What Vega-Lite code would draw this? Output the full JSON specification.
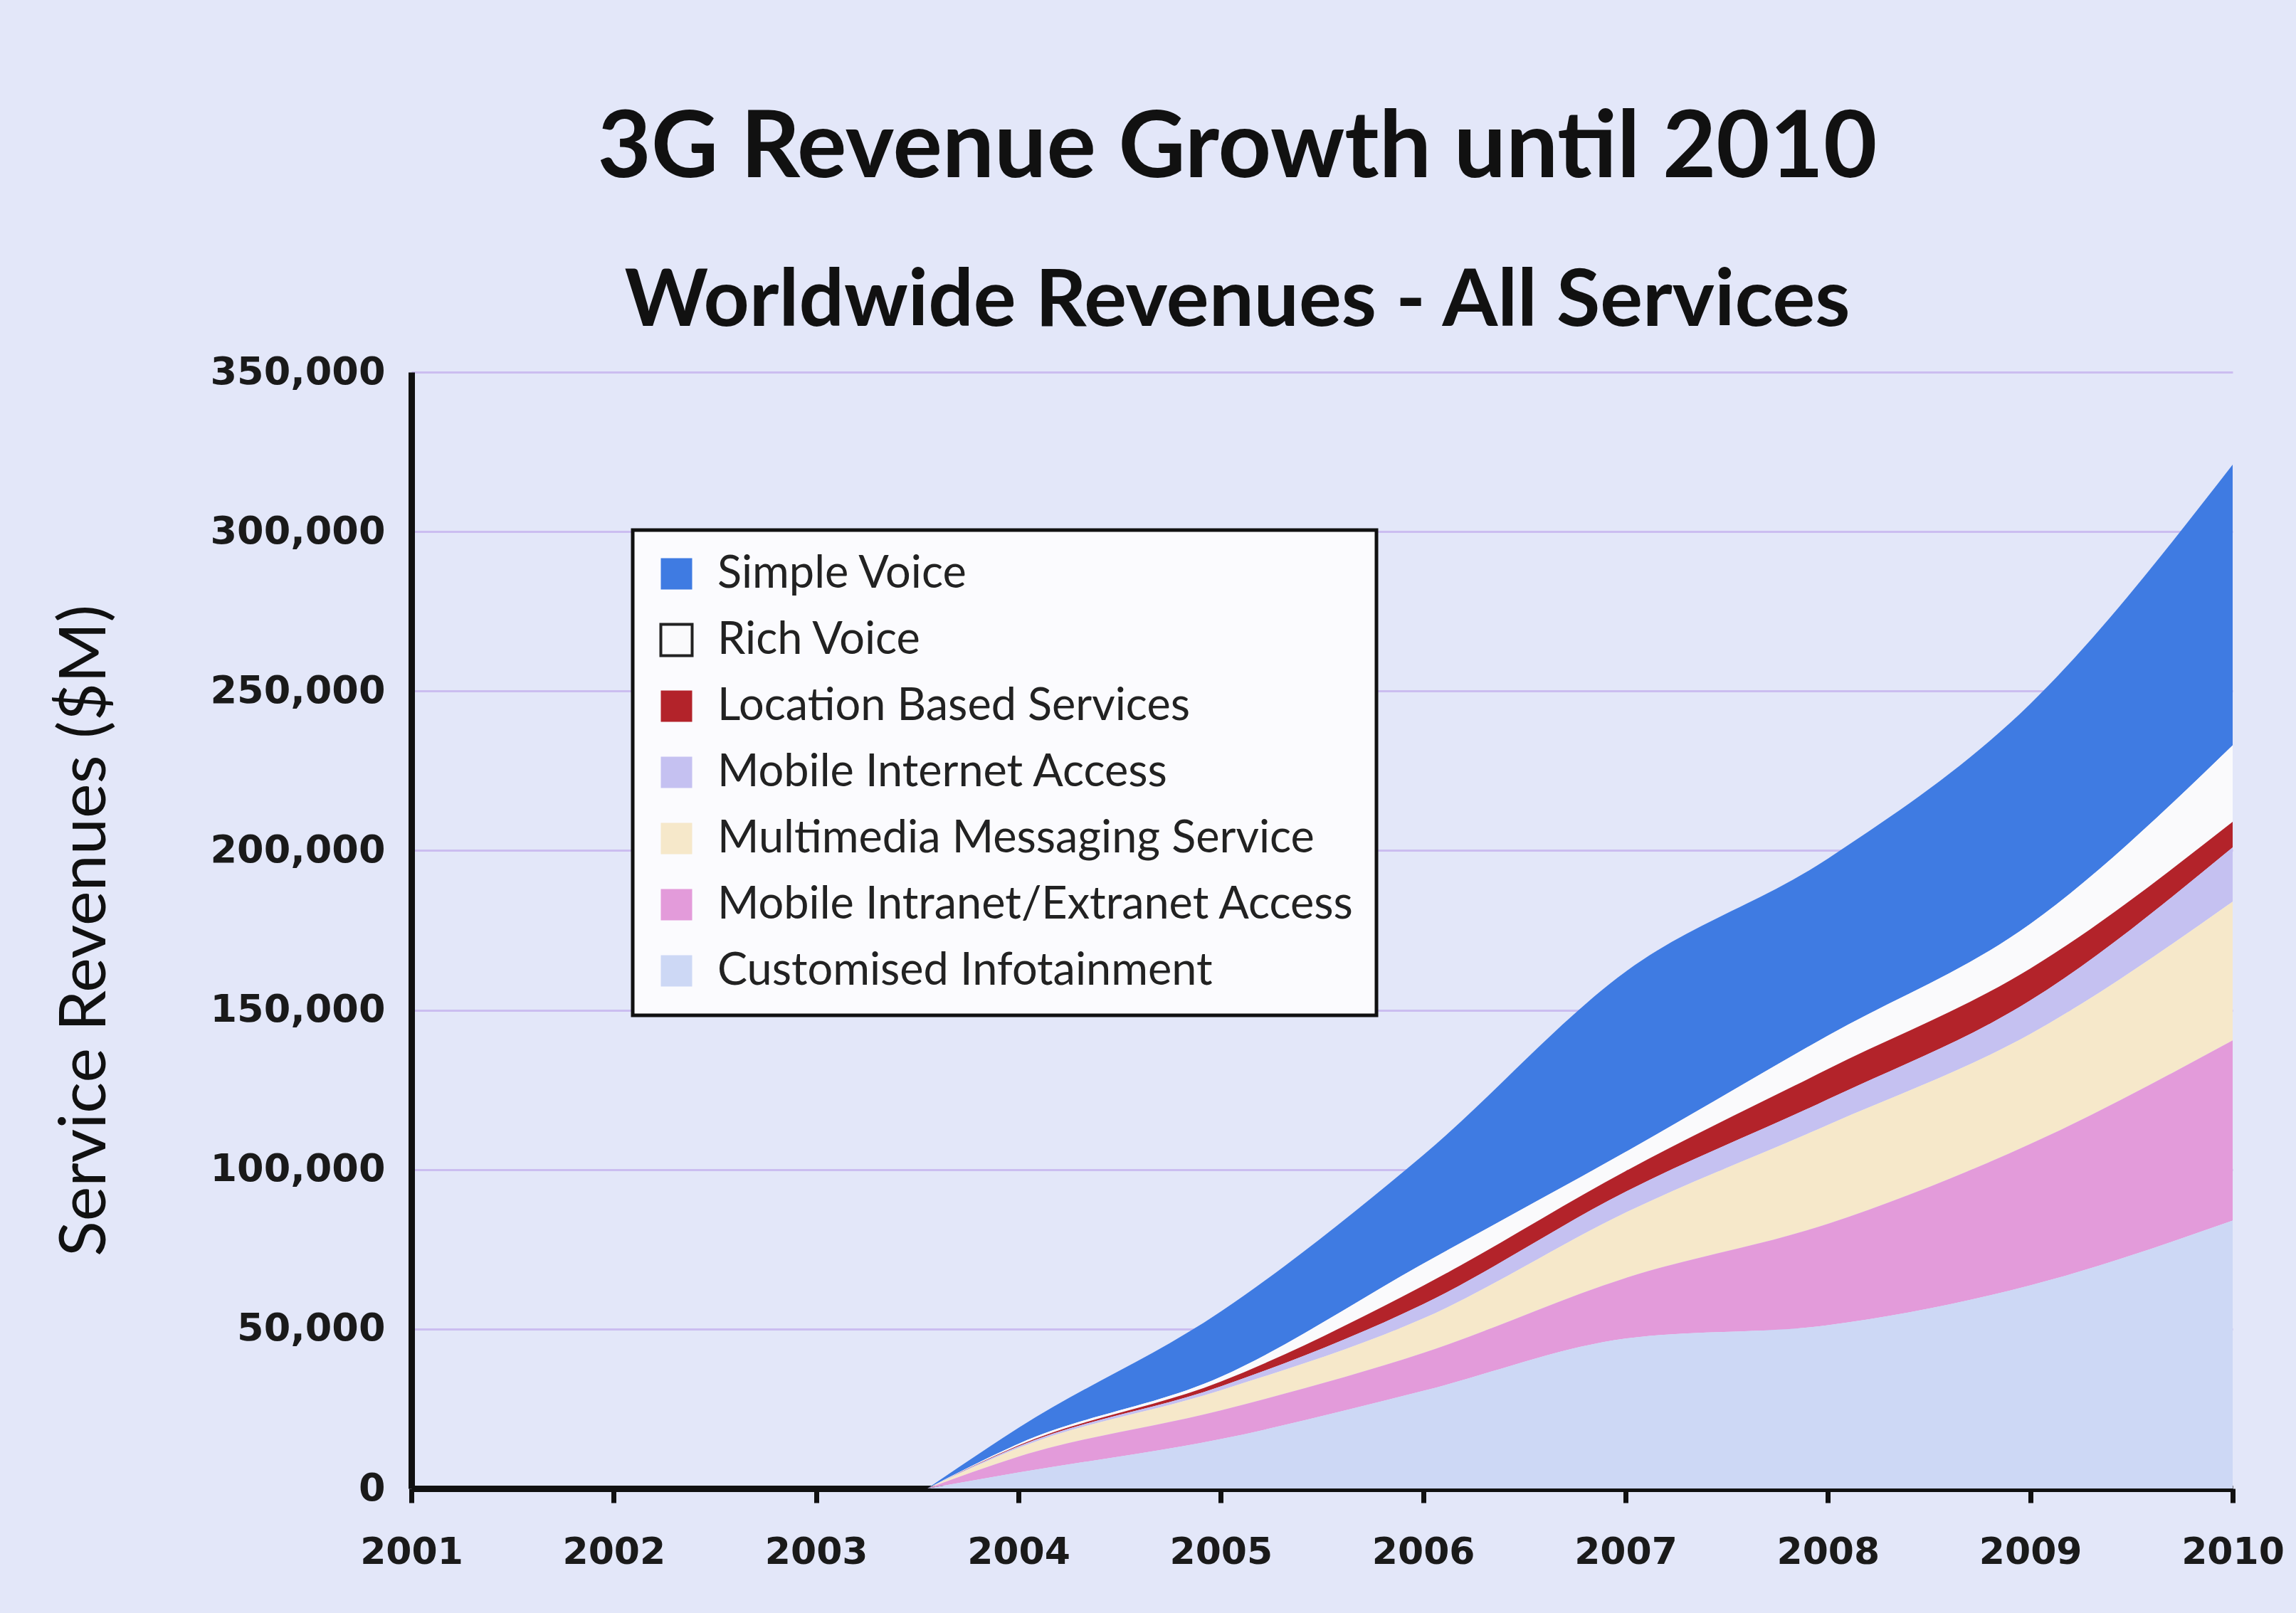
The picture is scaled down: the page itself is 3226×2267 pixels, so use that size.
{
  "$schema": "https://vega.github.io/schema/vega-lite/v6.json",
  "width": 2559,
  "height": 1569,
  "autosize": {"type": "none"},
  "padding": {"left": 578, "top": 523, "right": 89, "bottom": 175},
  "background": "#e3e7f9",
  "title": {
    "text": "3G Revenue Growth until 2010",
    "subtitle": "Worldwide Revenues - All Services",
    "anchor": "middle",
    "frame": "group",
    "dx": -119,
    "font": "Lato",
    "fontSize": 130,
    "fontWeight": "bold",
    "color": "#111111",
    "subtitleFont": "Lato",
    "subtitleFontSize": 112,
    "subtitleFontWeight": "bold",
    "subtitleColor": "#111111",
    "subtitlePadding": 94,
    "offset": 15
  },
  "datasets": {
    "services": [
      {"service": "Customised Infotainment", "rank": 1},
      {"service": "Mobile Intranet/Extranet Access", "rank": 2},
      {"service": "Multimedia Messaging Service", "rank": 3},
      {"service": "Mobile Internet Access", "rank": 4},
      {"service": "Location Based Services", "rank": 5},
      {"service": "Rich Voice", "rank": 6},
      {"service": "Simple Voice", "rank": 7}
    ],
    "revenue": [
      {"year": 2003.55, "service": "Simple Voice", "revenue": 0},
      {"year": 2003.55, "service": "Rich Voice", "revenue": 0},
      {"year": 2003.55, "service": "Location Based Services", "revenue": 0},
      {"year": 2003.55, "service": "Mobile Internet Access", "revenue": 0},
      {"year": 2003.55, "service": "Multimedia Messaging Service", "revenue": 0},
      {"year": 2003.55, "service": "Mobile Intranet/Extranet Access", "revenue": 0},
      {"year": 2003.55, "service": "Customised Infotainment", "revenue": 0},
      {"year": 2004, "service": "Simple Voice", "revenue": 5000},
      {"year": 2004, "service": "Rich Voice", "revenue": 500},
      {"year": 2004, "service": "Location Based Services", "revenue": 300},
      {"year": 2004, "service": "Mobile Internet Access", "revenue": 500},
      {"year": 2004, "service": "Multimedia Messaging Service", "revenue": 2700},
      {"year": 2004, "service": "Mobile Intranet/Extranet Access", "revenue": 5000},
      {"year": 2004, "service": "Customised Infotainment", "revenue": 5000},
      {"year": 2005, "service": "Simple Voice", "revenue": 20500},
      {"year": 2005, "service": "Rich Voice", "revenue": 1500},
      {"year": 2005, "service": "Location Based Services", "revenue": 1500},
      {"year": 2005, "service": "Mobile Internet Access", "revenue": 1200},
      {"year": 2005, "service": "Multimedia Messaging Service", "revenue": 6300},
      {"year": 2005, "service": "Mobile Intranet/Extranet Access", "revenue": 9000},
      {"year": 2005, "service": "Customised Infotainment", "revenue": 15500},
      {"year": 2006, "service": "Simple Voice", "revenue": 34000},
      {"year": 2006, "service": "Rich Voice", "revenue": 6900},
      {"year": 2006, "service": "Location Based Services", "revenue": 5800},
      {"year": 2006, "service": "Mobile Internet Access", "revenue": 4500},
      {"year": 2006, "service": "Multimedia Messaging Service", "revenue": 10800},
      {"year": 2006, "service": "Mobile Intranet/Extranet Access", "revenue": 11900},
      {"year": 2006, "service": "Customised Infotainment", "revenue": 30600},
      {"year": 2007, "service": "Simple Voice", "revenue": 56500},
      {"year": 2007, "service": "Rich Voice", "revenue": 6000},
      {"year": 2007, "service": "Location Based Services", "revenue": 6500},
      {"year": 2007, "service": "Mobile Internet Access", "revenue": 6500},
      {"year": 2007, "service": "Multimedia Messaging Service", "revenue": 20500},
      {"year": 2007, "service": "Mobile Intranet/Extranet Access", "revenue": 19000},
      {"year": 2007, "service": "Customised Infotainment", "revenue": 47000},
      {"year": 2008, "service": "Simple Voice", "revenue": 55500},
      {"year": 2008, "service": "Rich Voice", "revenue": 10500},
      {"year": 2008, "service": "Location Based Services", "revenue": 9500},
      {"year": 2008, "service": "Mobile Internet Access", "revenue": 8000},
      {"year": 2008, "service": "Multimedia Messaging Service", "revenue": 31000},
      {"year": 2008, "service": "Mobile Intranet/Extranet Access", "revenue": 31800},
      {"year": 2008, "service": "Customised Infotainment", "revenue": 51200},
      {"year": 2009, "service": "Simple Voice", "revenue": 69000},
      {"year": 2009, "service": "Rich Voice", "revenue": 14000},
      {"year": 2009, "service": "Location Based Services", "revenue": 10000},
      {"year": 2009, "service": "Mobile Internet Access", "revenue": 10500},
      {"year": 2009, "service": "Multimedia Messaging Service", "revenue": 34500},
      {"year": 2009, "service": "Mobile Intranet/Extranet Access", "revenue": 44300},
      {"year": 2009, "service": "Customised Infotainment", "revenue": 63700},
      {"year": 2010, "service": "Simple Voice", "revenue": 88000},
      {"year": 2010, "service": "Rich Voice", "revenue": 24000},
      {"year": 2010, "service": "Location Based Services", "revenue": 8000},
      {"year": 2010, "service": "Mobile Internet Access", "revenue": 17000},
      {"year": 2010, "service": "Multimedia Messaging Service", "revenue": 43500},
      {"year": 2010, "service": "Mobile Intranet/Extranet Access", "revenue": 56500},
      {"year": 2010, "service": "Customised Infotainment", "revenue": 84000}
    ]
  },
  "data": {"name": "revenue"},
  "transform": [
    {"lookup": "service", "from": {"data": {"name": "services"}, "key": "service", "fields": ["rank"]}}
  ],
  "mark": {"type": "area", "interpolate": "monotone"},
  "encoding": {
    "x": {
      "field": "year",
      "type": "quantitative",
      "scale": {"domain": [2001, 2010], "nice": false, "zero": false},
      "axis": {
        "title": null,
        "values": [2001, 2002, 2003, 2004, 2005, 2006, 2007, 2008, 2009, 2010],
        "format": "d",
        "grid": false,
        "domainColor": "#111111",
        "domainWidth": 9,
        "tickColor": "#111111",
        "tickWidth": 7,
        "tickSize": 20,
        "labelFont": "DejaVu Sans",
        "labelFontWeight": "bold",
        "labelFontSize": 52,
        "labelColor": "#1a1a1a",
        "labelPadding": 44,
        "labelFlush": false,
        "labelOverlap": false
      }
    },
    "y": {
      "field": "revenue",
      "type": "quantitative",
      "stack": "zero",
      "scale": {"domain": [0, 350000], "nice": false},
      "axis": {
        "title": "Service Revenues ($M)",
        "values": [0, 50000, 100000, 150000, 200000, 250000, 300000, 350000],
        "format": ",d",
        "grid": true,
        "gridColor": "#cbbdf0",
        "gridWidth": 3,
        "domainColor": "#111111",
        "domainWidth": 9,
        "ticks": false,
        "tickSize": 0,
        "labelFont": "DejaVu Sans",
        "labelFontWeight": "bold",
        "labelFontSize": 54,
        "labelColor": "#1a1a1a",
        "labelPadding": 37,
        "labelLimit": 1000,
        "titleFont": "Lato",
        "titleFontSize": 92,
        "titleFontWeight": "normal",
        "titleColor": "#111111",
        "titlePadding": 212
      }
    },
    "color": {
      "field": "service",
      "type": "nominal",
      "scale": {
        "domain": ["Simple Voice", "Rich Voice", "Location Based Services", "Mobile Internet Access", "Multimedia Messaging Service", "Mobile Intranet/Extranet Access", "Customised Infotainment"],
        "range": ["#3f7be2", "#fafafc", "#b3232a", "#c5c1f1", "#f6e8ca", "#e39bda", "#cdd8f5"]
      },
      "legend": {
        "orient": "none",
        "legendX": 311,
        "legendY": 222,
        "title": null,
        "symbolType": "square",
        "symbolSize": 1936,
        "symbolOpacity": 1,
        "labelFont": "Lato",
        "labelFontSize": 63,
        "labelColor": "#222222",
        "labelOffset": 26,
        "labelLimit": 2000,
        "rowPadding": 29,
        "padding": 30,
        "fillColor": "#fbfbfe",
        "strokeColor": "#111111",
        "encode": {
          "legend": {"update": {"strokeWidth": {"value": 5}}},
          "symbols": {"update": {"stroke": {"signal": "datum.value === 'Rich Voice' ? '#222222' : 'transparent'"}, "strokeWidth": {"value": 4}}}
        }
      }
    },
    "order": {"field": "rank", "type": "quantitative"}
  },
  "config": {"view": {"stroke": null}}
}
